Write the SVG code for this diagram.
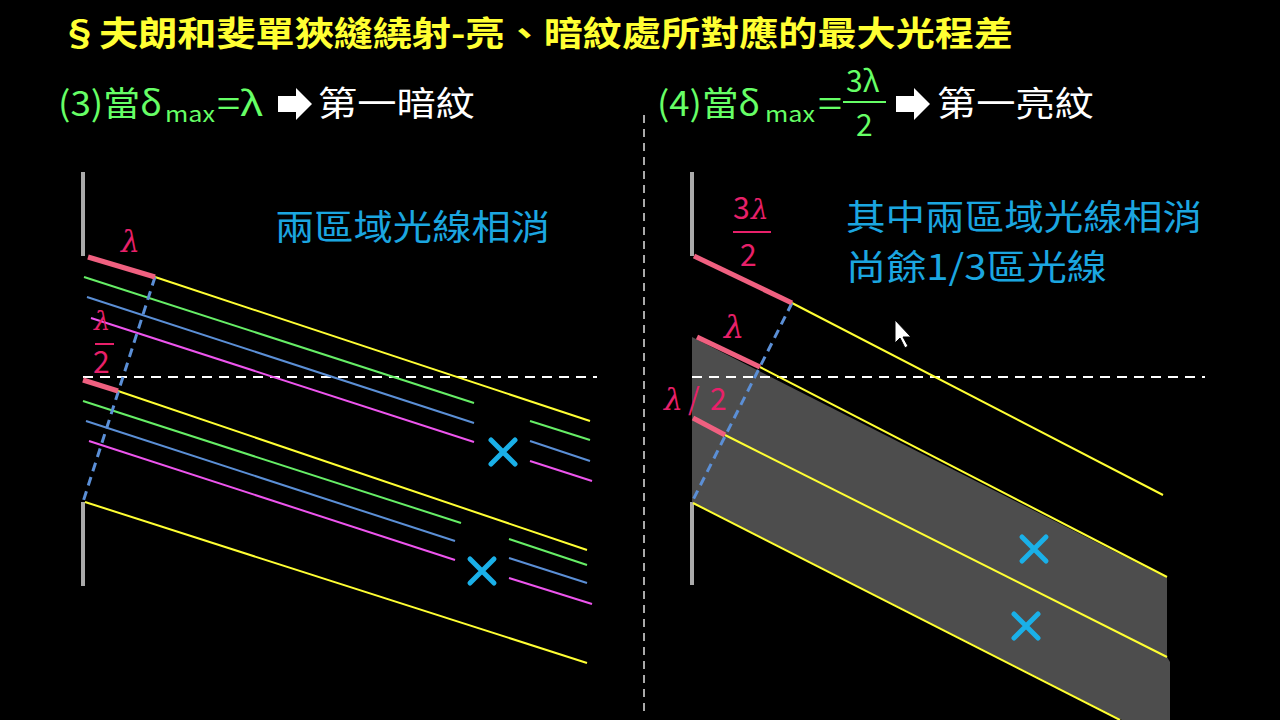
<svg xmlns="http://www.w3.org/2000/svg" width="1280" height="720" viewBox="0 0 1280 720">
<style>
.t{font-family:"Noto Sans CJK TC","Noto Sans",sans-serif}
.m{font-family:"DejaVu Serif","Liberation Serif",serif;font-style:italic}
.y{stroke:#ffff33;stroke-width:2;fill:none}
.g{stroke:#66ee66;stroke-width:2;fill:none}
.b{stroke:#5b8fd6;stroke-width:2;fill:none}
.p{stroke:#ee55ee;stroke-width:2;fill:none}
.pk{stroke:#f06080;stroke-width:5;fill:none}
.bar{stroke:#aaaaaa;stroke-width:4}
.x{stroke:#1ab0e8;stroke-width:5;stroke-linecap:round}
.c{fill:#1ba6e0;font-size:35px}
.r{fill:#e8206a}
.gr{fill:#66ff66}
</style>
<rect width="1280" height="720" fill="#000"/>
<text class="t" x="60" y="46" font-size="34" font-weight="bold" fill="#ffff33" textLength="953" lengthAdjust="spacingAndGlyphs">§夫朗和斐單狹縫繞射-亮、暗紋處所對應的最大光程差</text>
<text class="t gr" x="58" y="116" font-size="34" textLength="104" lengthAdjust="spacingAndGlyphs">(3)當δ</text>
<text class="t gr" x="165" y="122" font-size="22" textLength="50" lengthAdjust="spacingAndGlyphs">max</text>
<text class="t gr" x="217" y="116" font-size="34" textLength="46" lengthAdjust="spacingAndGlyphs">=λ</text>
<polygon points="278,96 296,96 296,88 312,104 296,120 296,112 278,112" fill="#fff"/>
<text class="t" x="318" y="116" font-size="34" fill="#fff" textLength="157" lengthAdjust="spacingAndGlyphs">第一暗紋</text>
<text class="t gr" x="657" y="116" font-size="34" textLength="103" lengthAdjust="spacingAndGlyphs">(4)當δ</text>
<text class="t gr" x="765" y="122" font-size="22" textLength="50" lengthAdjust="spacingAndGlyphs">max</text>
<text class="t gr" x="818" y="116" font-size="34" textLength="24" lengthAdjust="spacingAndGlyphs">=</text>
<text class="t gr" x="846" y="92" font-size="30">3λ</text>
<line x1="843" y1="102" x2="886" y2="102" stroke="#66ff66" stroke-width="2"/>
<text class="t gr" x="856" y="136" font-size="30">2</text>
<polygon points="896,96 914,96 914,88 930,104 914,120 914,112 896,112" fill="#fff"/>
<text class="t" x="937" y="116" font-size="34" fill="#fff" textLength="157" lengthAdjust="spacingAndGlyphs">第一亮紋</text>
<line x1="644" y1="115" x2="644" y2="715" stroke="#aaaaaa" stroke-width="2" stroke-dasharray="8,6"/>

<g id="left">
<line class="bar" x1="83" y1="172" x2="83" y2="256"/>
<line class="bar" x1="83" y1="502" x2="83" y2="586"/>
<line x1="83" y1="377" x2="597" y2="377" stroke="#fff" stroke-width="2" stroke-dasharray="10,7"/>
<line class="y" x1="155" y1="277" x2="590" y2="421"/>
<line class="g" x1="84" y1="277" x2="474" y2="403"/>
<line class="b" x1="87" y1="297" x2="474" y2="423"/>
<line class="p" x1="91" y1="318" x2="474" y2="442"/>
<line class="g" x1="530" y1="421" x2="590" y2="440"/>
<line class="b" x1="530" y1="441" x2="590" y2="461"/>
<line class="p" x1="530" y1="461" x2="592" y2="481"/>
<line class="y" x1="118" y1="391" x2="587" y2="550"/>
<line class="g" x1="83" y1="401" x2="461" y2="523"/>
<line class="b" x1="86" y1="421" x2="455" y2="541"/>
<line class="p" x1="89" y1="441" x2="455" y2="560"/>
<line class="g" x1="509" y1="539" x2="587" y2="565"/>
<line class="b" x1="509" y1="558" x2="587" y2="583"/>
<line class="p" x1="509" y1="578" x2="592" y2="604"/>
<line class="y" x1="85" y1="502" x2="587" y2="663"/>
<line x1="155" y1="277" x2="83" y2="502" stroke="#5b8fd6" stroke-width="3" stroke-dasharray="9,6"/>
<line class="pk" x1="88" y1="257" x2="155" y2="277"/>
<line class="pk" x1="83" y1="380" x2="118" y2="391"/>
<path class="x" d="M491,440 L515,464 M515,440 L491,464"/>
<path class="x" d="M470,559 L494,583 M494,559 L470,583"/>
<text class="m r" x="121" y="252" font-size="30">λ</text>
<text class="m r" x="94" y="330" font-size="26">λ</text>
<line x1="95" y1="344" x2="114" y2="344" stroke="#e8206a" stroke-width="2"/>
<text class="t r" x="93" y="373" font-size="30">2</text>
<text class="t c" x="275" y="240" textLength="275" lengthAdjust="spacingAndGlyphs">兩區域光線相消</text>
</g>

<g id="right">
<line class="bar" x1="692" y1="172" x2="692" y2="256"/>
<line class="bar" x1="692" y1="502" x2="692" y2="585"/>
<polygon points="692,337 1167,578 1167,657 1170,662 1170,720 1122,720 692,502" fill="#4d4d4d"/>
<line x1="692" y1="377" x2="1205" y2="377" stroke="#fff" stroke-width="2" stroke-dasharray="10,7"/>
<line class="y" x1="792" y1="303" x2="1163" y2="495"/>
<line class="y" x1="760" y1="367" x2="1167" y2="577"/>
<line class="y" x1="725" y1="435" x2="1167" y2="657"/>
<line class="y" x1="693" y1="503" x2="1120" y2="720"/>
<line x1="792" y1="303" x2="692" y2="502" stroke="#5b8fd6" stroke-width="3" stroke-dasharray="9,6"/>
<line class="pk" x1="694" y1="256" x2="792" y2="303"/>
<line class="pk" x1="697" y1="337" x2="760" y2="367"/>
<line class="pk" x1="693" y1="418" x2="725" y2="435"/>
<path class="x" d="M1022,537 L1046,561 M1046,537 L1022,561"/>
<path class="x" d="M1014,614 L1038,638 M1038,614 L1014,638"/>
<text class="t r" x="733" y="219" font-size="30">3</text>
<text class="m r" x="751" y="219" font-size="28">λ</text>
<line x1="733" y1="232" x2="771" y2="232" stroke="#e8206a" stroke-width="2"/>
<text class="t r" x="740" y="266" font-size="30">2</text>
<text class="m r" x="724" y="338" font-size="32">λ</text>
<text class="m r" x="664" y="410" font-size="30">λ</text>
<text class="t r" x="688" y="410" font-size="30">/</text>
<text class="t r" x="710" y="410" font-size="30">2</text>
<text class="t c" x="846" y="230" textLength="356" lengthAdjust="spacingAndGlyphs">其中兩區域光線相消</text>
<text class="t c" x="846" y="280" textLength="261" lengthAdjust="spacingAndGlyphs">尚餘1/3區光線</text>
<polygon points="895,320 895,343 900,338 905,348 908,346 903,337 911,337" fill="#fff" stroke="#000" stroke-width="1"/>
</g>
</svg>
